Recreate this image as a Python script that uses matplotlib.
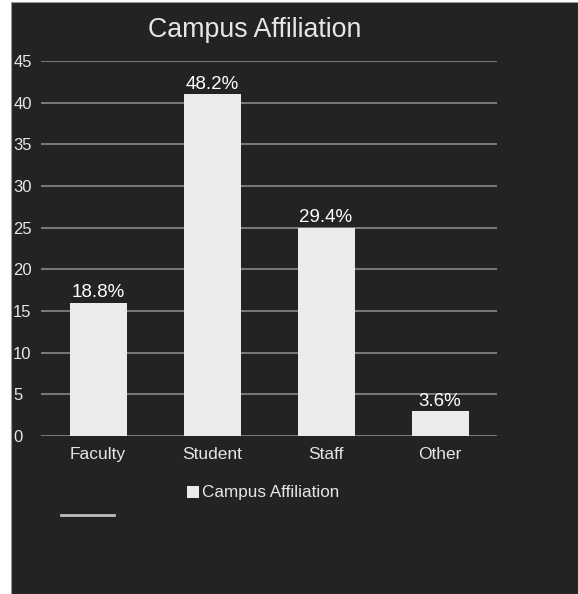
import matplotlib
matplotlib.use("Agg")
import matplotlib.pyplot as plt
from matplotlib.patches import Rectangle
from matplotlib.lines import Line2D

categories = ["Faculty", "Student", "Staff", "Other"]
counts = [16, 41, 25, 3]
pct_labels = ["18.8%", "48.2%", "29.4%", "3.6%"]
yticks = [0, 5, 10, 15, 20, 25, 30, 35, 40, 45]
title = "Campus Affiliation"
series_name = "Campus Affiliation"

W, H = 578, 594
plt.rcParams['font.family'] = ['Liberation Sans', 'DejaVu Sans']
fig = plt.figure(figsize=(W / 100, H / 100), dpi=100, facecolor="white")

bg = "#232323"
txt = "#e6e6e6"
barc = "#ebebeb"
grid = "#7a7a7a"

fig.patches.append(Rectangle((11 / W, 0), 1 - 11 / W, 1 - 2 / H, transform=fig.transFigure,
                             facecolor=bg, edgecolor="#9a9a9a", linewidth=0.8, zorder=-10))

ax = fig.add_axes([41 / W, 1 - 436 / H, 456 / W, 375 / H])
ax.set_facecolor("none")
x = list(range(len(categories)))
ax.bar(x, counts, width=0.5, color=barc, zorder=3)
ax.set_xlim(-0.5, len(categories) - 0.5)
ax.set_ylim(0, 45)
ax.set_yticks(yticks)
ax.set_yticklabels([str(v) for v in yticks], fontsize=12, color=txt)
ax.set_xticks(x)
ax.set_xticklabels(categories, fontsize=12.5, color=txt)
ax.tick_params(axis='x', length=0, pad=8)
for lbl in ax.get_yticklabels():
    lbl.set_horizontalalignment('left')
ax.tick_params(axis='y', length=0, pad=20)
ax.yaxis.grid(True, color=grid, linewidth=1.4, zorder=0)
ax.set_axisbelow(True)
for s in ax.spines.values():
    s.set_visible(False)

for xi, c, p in zip(x, counts, pct_labels):
    ax.annotate(p, (xi, c), xytext=(0, 1), textcoords="offset points",
                ha="center", va="bottom", fontsize=13.5, color="white", zorder=4)

fig.text(255 / W, 1 - 30 / H, title, ha="center", va="center", fontsize=19.3, color=txt)

handle = Rectangle((0, 0), 1, 1, facecolor=barc, edgecolor="none")
leg = fig.legend([handle], [series_name], loc="center", bbox_to_anchor=(263 / W, 1 - 493 / H),
                 frameon=False, fontsize=12.3, labelcolor=txt, handlelength=0.7, handleheight=0.7,
                 handletextpad=0.2, borderpad=0)

fig.lines.append(Line2D([61 / W, 114 / W], [1 - 515 / H, 1 - 515 / H], transform=fig.transFigure,
                        color="#bdbdbd", linewidth=2))

fig.savefig("out.png", dpi=100, facecolor=fig.get_facecolor())
